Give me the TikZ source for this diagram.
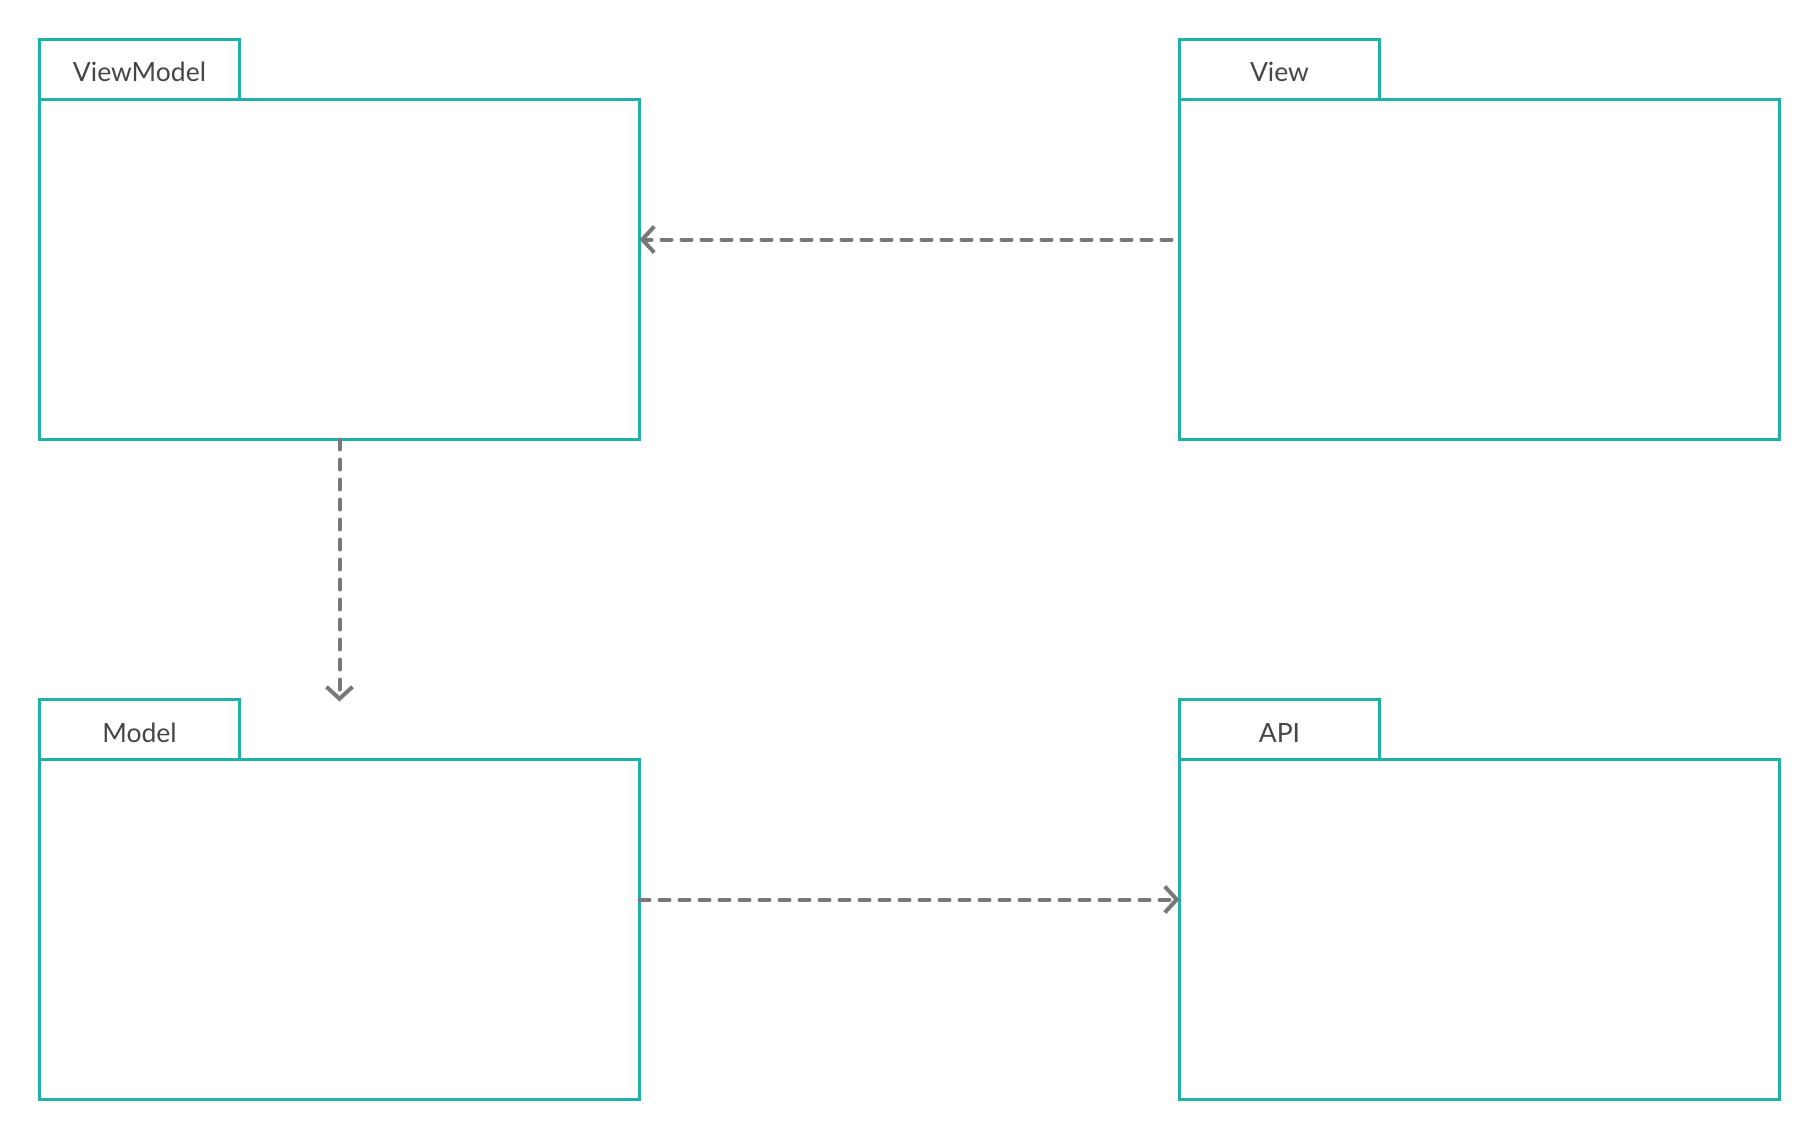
\documentclass[tikz,border=0pt]{standalone}
\usepackage{fontspec}
\setmainfont{Lato}
\usetikzlibrary{arrows.meta}
\definecolor{pkg}{RGB}{32,176,170}
\definecolor{dep}{RGB}{120,120,120}
\definecolor{txt}{RGB}{70,70,70}
\newcommand{\tabtext}[1]{\raisebox{-12.5pt}[0pt][0pt]{#1}}
\tikzset{
  pkgbody/.style={draw=pkg, line width=3.3pt, rectangle, inner sep=0pt, outer sep=0pt, minimum width=600pt, minimum height=340pt, anchor=north west, fill=white},
  pkgtab/.style={draw=pkg, line width=3.3pt, rectangle, inner sep=0pt, outer sep=0pt, minimum width=200pt, minimum height=60pt, anchor=north west, text=txt, font=\fontsize{26.5}{30}\selectfont, fill=white},
  depline/.style={draw=dep, line width=4pt, line cap=round, dash pattern=on 10pt off 10pt, -{Straight Barb[length=12pt, width=26pt, line width=4pt]}}
}
\begin{document}
\begin{tikzpicture}[x=1pt,y=1pt]
\useasboundingbox[fill=white] (0,0) rectangle (1820,-1140);
\node[pkgtab] (vmt) at (39.5,-39.5) {\tabtext{ViewModel}};
\node[pkgbody] (vmb) at (39.5,-99.5) {};
\node[pkgtab] (vt) at (1179.5,-39.5) {\tabtext{View}};
\node[pkgbody] (vb) at (1179.5,-99.5) {};
\node[pkgtab] (mt) at (39.5,-699.5) {\tabtext{Model}};
\node[pkgbody] (mb) at (39.5,-759.5) {};
\node[pkgtab] (at) at (1179.5,-699.5) {\tabtext{API}};
\node[pkgbody] (ab) at (1179.5,-759.5) {};
\draw[depline] ([xshift=-8pt,yshift=30pt]vb.west) -- ([yshift=30pt]vmb.east);
\draw[depline] (vmb.south) -- ([yshift=-2pt]mt.north -| vmb.south);
\draw[depline] ([yshift=30pt]mb.east) -- ([yshift=30pt]ab.west);
\end{tikzpicture}
\end{document}
